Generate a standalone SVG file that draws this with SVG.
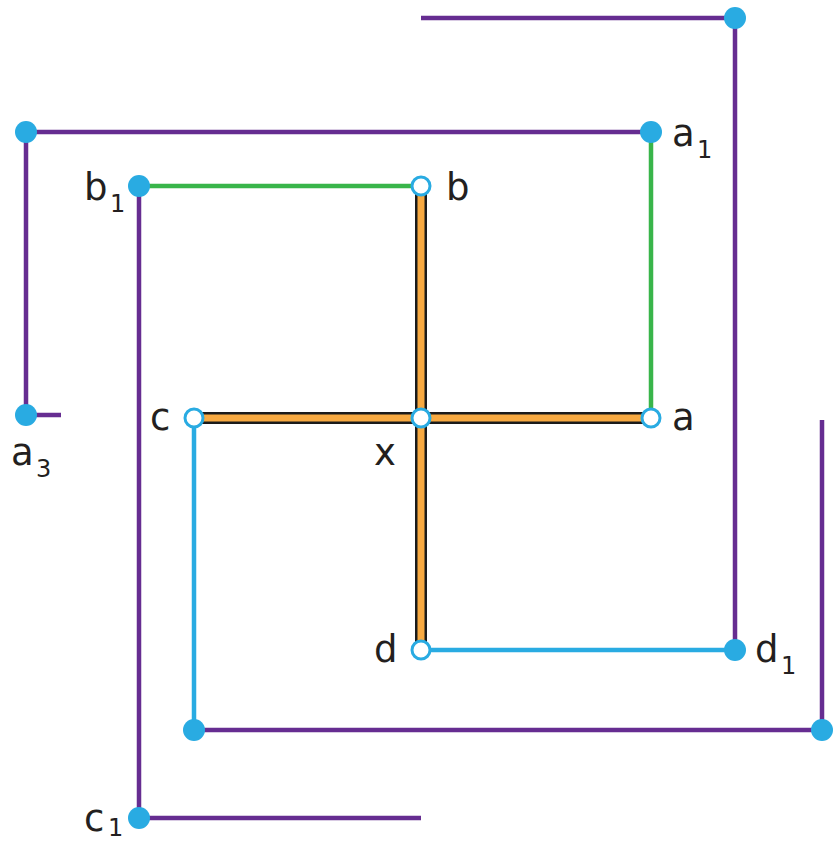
<svg xmlns="http://www.w3.org/2000/svg" width="837" height="843" viewBox="0 0 837 843">
<style>
.p{stroke:#662d91;stroke-width:4.5;fill:none}
.g{stroke:#39b54a;stroke-width:4.5;fill:none}
.bl{stroke:#29abe2;stroke-width:4.5;fill:none}
.k{stroke:#1a1a1a;stroke-width:12;fill:none}
.o{stroke:#f7a941;stroke-width:7;fill:none}
.dot{fill:#29abe2}
.open{fill:#fff;stroke:#29abe2;stroke-width:3}
text{font-family:"DejaVu Sans",Verdana,sans-serif;fill:#231f20}
.l{font-size:37px}
.s{font-size:24px}
</style>
<rect width="837" height="843" fill="#fff"/>
<g id="connectors">
<path class="p" d="M421,18H735V650"/>
<path class="p" d="M61,415H26V132H651"/>
<path class="g" d="M651,132V418"/>
<path class="g" d="M139,186H421"/>
<path class="p" d="M139,186V818H421"/>
<path class="bl" d="M194,418V730"/>
<path class="p" d="M194,730H822V420"/>
<path class="bl" d="M421,650H735"/>
<path class="k" d="M194,418H651M421,186V650"/>
<path class="o" d="M194,418H651M421,186V650"/>
</g>
<g id="n-top"><circle class="dot" cx="735" cy="18" r="11"/></g>
<g id="n-a1"><circle class="dot" cx="651" cy="132" r="11"/><text class="l" x="672" y="146">a</text><text class="s" x="697" y="158">1</text></g>
<g id="n-topleft"><circle class="dot" cx="26" cy="132" r="11"/></g>
<g id="n-a3"><circle class="dot" cx="26" cy="415" r="11"/><text class="l" x="11" y="465">a</text><text class="s" x="36" y="477">3</text></g>
<g id="n-b1"><circle class="dot" cx="139" cy="186" r="11"/><text class="l" x="84" y="200">b</text><text class="s" x="110" y="212">1</text></g>
<g id="n-b"><circle class="open" cx="421" cy="186" r="9"/><text class="l" x="446" y="200">b</text></g>
<g id="n-c"><circle class="open" cx="194" cy="418" r="9"/><text class="l" x="150" y="430">c</text></g>
<g id="n-x"><circle class="open" cx="421" cy="418" r="9"/><text class="l" x="374" y="465">x</text></g>
<g id="n-a"><circle class="open" cx="651" cy="418" r="9"/><text class="l" x="672" y="430">a</text></g>
<g id="n-d"><circle class="open" cx="421" cy="650" r="9"/><text class="l" x="374" y="662">d</text></g>
<g id="n-d1"><circle class="dot" cx="735" cy="650" r="11"/><text class="l" x="755" y="662">d</text><text class="s" x="781" y="674">1</text></g>
<g id="n-corner1"><circle class="dot" cx="194" cy="730" r="11"/></g>
<g id="n-corner2"><circle class="dot" cx="822" cy="730" r="11"/></g>
<g id="n-c1"><circle class="dot" cx="139" cy="818" r="11"/><text class="l" x="84" y="831">c</text><text class="s" x="108" y="836">1</text></g>
</svg>
